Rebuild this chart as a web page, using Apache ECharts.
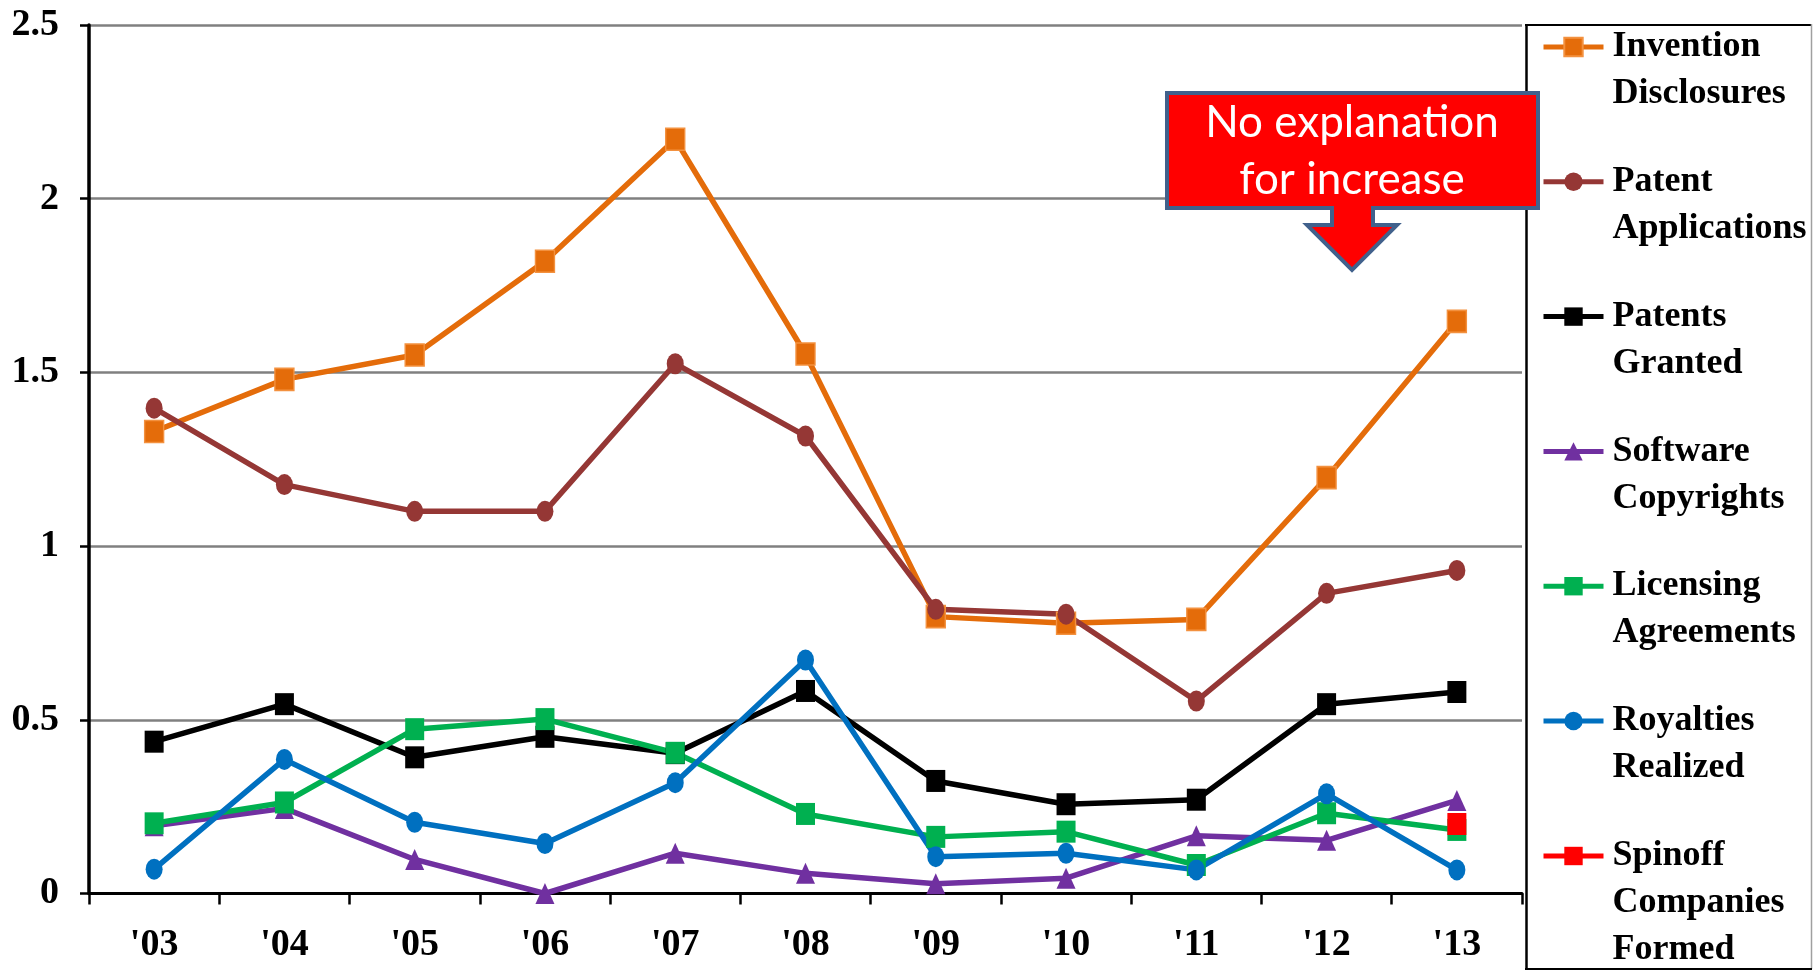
<!DOCTYPE html>
<html>
<head>
<meta charset="utf-8">
<script src="https://cdn.jsdelivr.net/npm/echarts@6/dist/echarts.min.js"></script>
<style>
html,body{margin:0;padding:0;background:#fff;}
#chart{width:1818px;height:970px;}
</style>
</head>
<body>
<div id="chart"></div>
<script>
const categories = ["'03","'04","'05","'06","'07","'08","'09","'10","'11","'12","'13"];
const yTicks = [0, 0.5, 1, 1.5, 2, 2.5];
const seriesNames = ["Invention Disclosures","Patent Applications","Patents Granted","Software Copyrights","Licensing Agreements","Royalties Realized","Spinoff Companies Formed"];
const inventionDisclosures = [1.33,1.48,1.55,1.82,2.171,1.553,0.797,0.778,0.789,1.197,1.647];
const patentApplications   = [1.397,1.177,1.10,1.10,1.525,1.317,0.818,0.804,0.554,0.864,0.93];
const patentsGranted       = [0.437,0.545,0.392,0.451,0.404,0.583,0.324,0.257,0.27,0.545,0.58];
const softwareCopyrights   = [0.195,0.245,0.098,0.0,0.116,0.058,0.028,0.044,0.166,0.153,0.268];
const licensingAgreements  = [0.202,0.262,0.473,0.502,0.405,0.229,0.163,0.178,0.082,0.231,0.183];
const royaltiesRealized    = [0.07,0.386,0.205,0.144,0.319,0.672,0.106,0.116,0.068,0.287,0.068];
const spinoffCompanies     = [null,null,null,null,null,null,null,null,null,null,0.2];
const calloutLines = ["No explanation","for increase"];

const colors = ['#E46C0A','#953735','#000000','#7030A0','#00B050','#0070C0','#FF0000'];
const symbols = ['rect','circle','rect','triangle','rect','circle','rect'];
const sizes = [[19,22],[17,21],[19,22],[19,21],[19,22],[17,21],[19,22]];
const dataSets = [inventionDisclosures,patentApplications,patentsGranted,softwareCopyrights,licensingAgreements,royaltiesRealized,spinoffCompanies];

const serif = '"Liberation Serif","Times New Roman",serif';

const series = seriesNames.map((name,i)=>({
  name: name,
  type: 'line',
  data: dataSets[i],
  symbol: symbols[i],
  symbolSize: sizes[i],
  showSymbol: true,
  showAllSymbol: true,
  connectNulls: false,
  lineStyle: {color: colors[i], width: 5.5},
  itemStyle: i === 0 ? {color: colors[i], borderColor: '#F3913F', borderWidth: 1.5} : {color: colors[i], borderWidth: 0},
  emphasis: {disabled: true},
  z: 2
}));

// first visible line of each legend name sits on the icon: pad with blank lines above
function legendLabel(name) {
  const parts = name.split(' ');
  const blanks = [];
  for (let k = 1; k < parts.length; k++) blanks.push(' ');
  return blanks.concat(parts).join('\n');
}

const legendText = {
  fontFamily: serif, fontWeight: 'bold', fontSize: 36, color: '#000', lineHeight: 47, padding: [0,0,0,4]
};

const chart = echarts.init(document.getElementById('chart'), null, {renderer: 'canvas'});
chart.setOption({
  backgroundColor: '#ffffff',
  animation: false,
  grid: {left: 89, right: 296, top: 25, bottom: 76.5, containLabel: false, outerBoundsMode: 'none'},
  xAxis: {
    type: 'category',
    data: categories,
    boundaryGap: true,
    axisLine: {lineStyle: {color: '#000', width: 3}},
    axisTick: {show: true, inside: false, length: 11, alignWithLabel: false, lineStyle: {color: '#000', width: 2.5}},
    axisLabel: {fontFamily: serif, fontWeight: 'bold', fontSize: 38, color: '#000', margin: 33, interval: 0},
    splitLine: {show: false}
  },
  yAxis: {
    type: 'value',
    min: yTicks[0],
    max: yTicks[yTicks.length-1],
    interval: yTicks[1]-yTicks[0],
    axisLine: {show: true, lineStyle: {color: '#000', width: 3.5}},
    axisTick: {show: true, inside: false, length: 9, lineStyle: {color: '#000', width: 2.5}},
    axisLabel: {fontFamily: serif, fontWeight: 'bold', fontSize: 38, color: '#000', margin: 30},
    splitLine: {show: true, lineStyle: {color: '#808080', width: 2.5}}
  },
  legend: [
    {
      data: seriesNames.slice(0,6),
      orient: 'vertical',
      left: 1541,
      top: -23.5,
      height: 1000,
      padding: 0,
      itemGap: -6.2,
      itemWidth: 60,
      itemHeight: 23,
      selectedMode: false,
      formatter: legendLabel,
      lineStyle: {width: 5},
      textStyle: legendText
    },
    {
      data: seriesNames.slice(6),
      orient: 'vertical',
      left: 1541,
      top: 738.5,
      height: 400,
      padding: 0,
      itemGap: 0,
      itemWidth: 60,
      itemHeight: 23,
      selectedMode: false,
      formatter: legendLabel,
      lineStyle: {width: 5},
      textStyle: legendText
    }
  ],
  graphic: [
    {type: 'line', shape: {x1: 1526.5, y1: 24, x2: 1526.5, y2: 970}, style: {stroke: '#000', lineWidth: 2.5}, silent: true},
    {type: 'line', shape: {x1: 1525, y1: 25, x2: 1812, y2: 25}, style: {stroke: '#000', lineWidth: 2}, silent: true},
    {type: 'line', shape: {x1: 1811.5, y1: 24, x2: 1811.5, y2: 969}, style: {stroke: '#a0a0a0', lineWidth: 1.5}, silent: true},
    {type: 'line', shape: {x1: 1525, y1: 969, x2: 1812, y2: 969}, style: {stroke: '#000', lineWidth: 2}, silent: true},
    {
      type: 'polygon',
      z: 100,
      shape: {points: [[1167,93],[1538,93],[1538,208],[1373,208],[1373,225],[1397,225],[1352,270],[1307,225],[1332,225],[1332,208],[1167,208]]},
      style: {fill: '#FF0000', stroke: '#41618C', lineWidth: 4, lineJoin: 'miter'},
      silent: true
    },
    {
      type: 'text',
      z: 101,
      x: 1352,
      y: 151.5,
      style: {
        text: calloutLines.join('\n'),
        fill: '#ffffff',
        fontFamily: 'Lato, "Open Sans", sans-serif',
        fontSize: 44,
        lineHeight: 57,
        align: 'center',
        verticalAlign: 'middle'
      },
      silent: true
    }
  ],
  series: series
});
</script>
</body>
</html>
